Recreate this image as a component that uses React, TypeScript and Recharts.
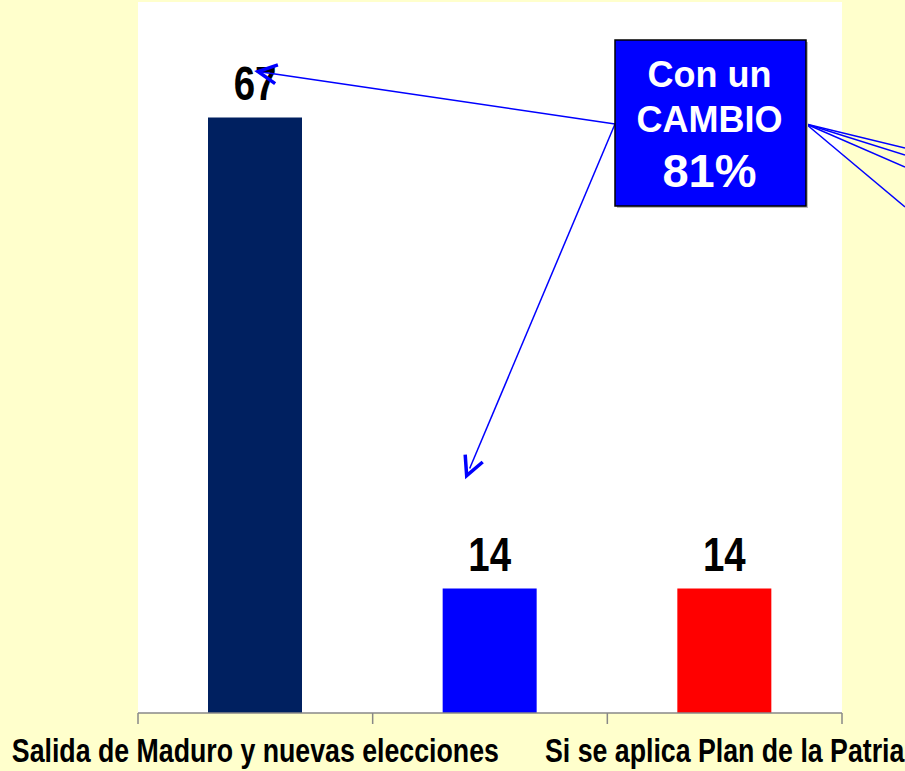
import React from 'react';
import { BarChart, Bar, XAxis, YAxis, CartesianGrid, LabelList, Cell } from 'recharts';

const categories = ['Salida de Maduro y nuevas elecciones', '', 'Si se aplica Plan de la Patria'];
const values = [67, 14, 14];
const barColors = ['#002060', '#0000FF', '#FF0000'];
const boxLines = ['Con un', 'CAMBIO', '81%'];

const data = categories.map((name, i) => ({ name, value: values[i] }));

const W = 905;
const H = 771;
const CAT_W = (842 - 138) / categories.length;
const SANS = '"Liberation Sans", Arial, sans-serif';
const SQUEEZE = 0.8; // the reference text is a condensed bold face

// open "V" arrow head at (tx, ty), pointing away from (fx, fy)
const arrowHead = (tx: number, ty: number, fx: number, fy: number, len = 21, ang = 0.47) => {
  const a = Math.atan2(fy - ty, fx - tx);
  const p1 = [tx + len * Math.cos(a - ang), ty + len * Math.sin(a - ang)];
  const p2 = [tx + len * Math.cos(a + ang), ty + len * Math.sin(a + ang)];
  return `M${p1[0]},${p1[1]} L${tx},${ty} L${p2[0]},${p2[1]}`;
};

const BOX = { x: 615, y: 40, w: 191, h: 166 };
const boxMidY = BOX.y + 84;

const ValueLabel = (props: any) => {
  const { x, y, width, value, index } = props;
  const cx = x + width / 2;
  let arrow = null;
  if (index === 0) {
    const tx = cx + 3, ty = y - 46;
    arrow = (
      <g>
        <line x1={BOX.x} y1={boxMidY} x2={tx} y2={ty} stroke="#0000FF" strokeWidth={1.5} />
        <path d={arrowHead(tx, ty, BOX.x, boxMidY)} fill="none" stroke="#0000FF" strokeWidth={3.5} />
      </g>
    );
  } else if (index === 1) {
    const tx = cx - 23, ty = y - 113;
    arrow = (
      <g>
        <line x1={BOX.x} y1={boxMidY} x2={tx + 3} y2={ty - 7} stroke="#0000FF" strokeWidth={1.5} />
        <path d={arrowHead(tx, ty, BOX.x, boxMidY)} fill="none" stroke="#0000FF" strokeWidth={3.5} />
      </g>
    );
  }
  return (
    <g>
      <text
        transform={`translate(${cx},${y - 18}) scale(${SQUEEZE},1)`}
        textAnchor="middle"
        fontFamily={SANS}
        fontWeight="bold"
        fontSize={48}
        fill="#000"
      >
        {value}
      </text>
      {arrow}
    </g>
  );
};

const CategoryTick = (props: any) => {
  const { x, y, payload, index } = props;
  const left = x - CAT_W / 2;
  return (
    <g>
      <line x1={left} y1={y - 8} x2={left} y2={y + 3} stroke="#888" strokeWidth={1.5} />
      {index === categories.length - 1 && (
        <line x1={left + CAT_W} y1={y - 8} x2={left + CAT_W} y2={y + 3} stroke="#888" strokeWidth={1.5} />
      )}
      {index % 2 === 0 && (
        <text
          transform={`translate(${x},${y + 41}) scale(0.81,1)`}
          textAnchor="middle"
          fontFamily={SANS}
          fontWeight="bold"
          fontSize={33}
          fill="#000"
        >
          {payload.value}
        </text>
      )}
    </g>
  );
};

export default function App() {
  return (
    <div style={{ position: 'fixed', left: 0, top: 0, width: W, height: H, background: '#FFFFCC', overflow: 'hidden' }}>
      <BarChart width={W} height={H} data={data} margin={{ top: 2, right: 63, left: 138, bottom: 0 }}>
        <CartesianGrid fill="#FFFFFF" horizontal={false} vertical={false} />
        <YAxis hide domain={[0, 80]} />
        <XAxis
          dataKey="name"
          height={58}
          interval={0}
          tickLine={false}
          axisLine={{ stroke: '#888', strokeWidth: 1.5 }}
          tick={<CategoryTick />}
        />
        <Bar dataKey="value" barSize={94} isAnimationActive={false}>
          {data.map((d, i) => (
            <Cell key={`c-${i}`} fill={barColors[i]} />
          ))}
          <LabelList dataKey="value" content={<ValueLabel />} />
        </Bar>
      </BarChart>
      <svg width={W} height={H} style={{ position: 'absolute', left: 0, top: 0, pointerEvents: 'none' }}>
        {[148, 155, 167, 207].map((ey) => (
          <line key={ey} x1={BOX.x + BOX.w} y1={boxMidY} x2={W} y2={ey} stroke="#0000FF" strokeWidth={1.5} />
        ))}
        <rect x={BOX.x + 2} y={BOX.y + 2} width={BOX.w} height={BOX.h} fill="#bbb" />
        <rect x={BOX.x} y={BOX.y} width={BOX.w} height={BOX.h} fill="#0000FF" stroke="#000" strokeWidth={1.5} />
        <g fontFamily={SANS} fontWeight="bold" fill="#fff" textAnchor="middle">
          <text x={BOX.x + BOX.w / 2 - 1} y={87} fontSize={36}>{boxLines[0]}</text>
          <text x={BOX.x + BOX.w / 2 - 1} y={132} fontSize={36}>{boxLines[1]}</text>
          <text x={BOX.x + BOX.w / 2 - 1} y={187} fontSize={47}>{boxLines[2]}</text>
        </g>
      </svg>
    </div>
  );
}
